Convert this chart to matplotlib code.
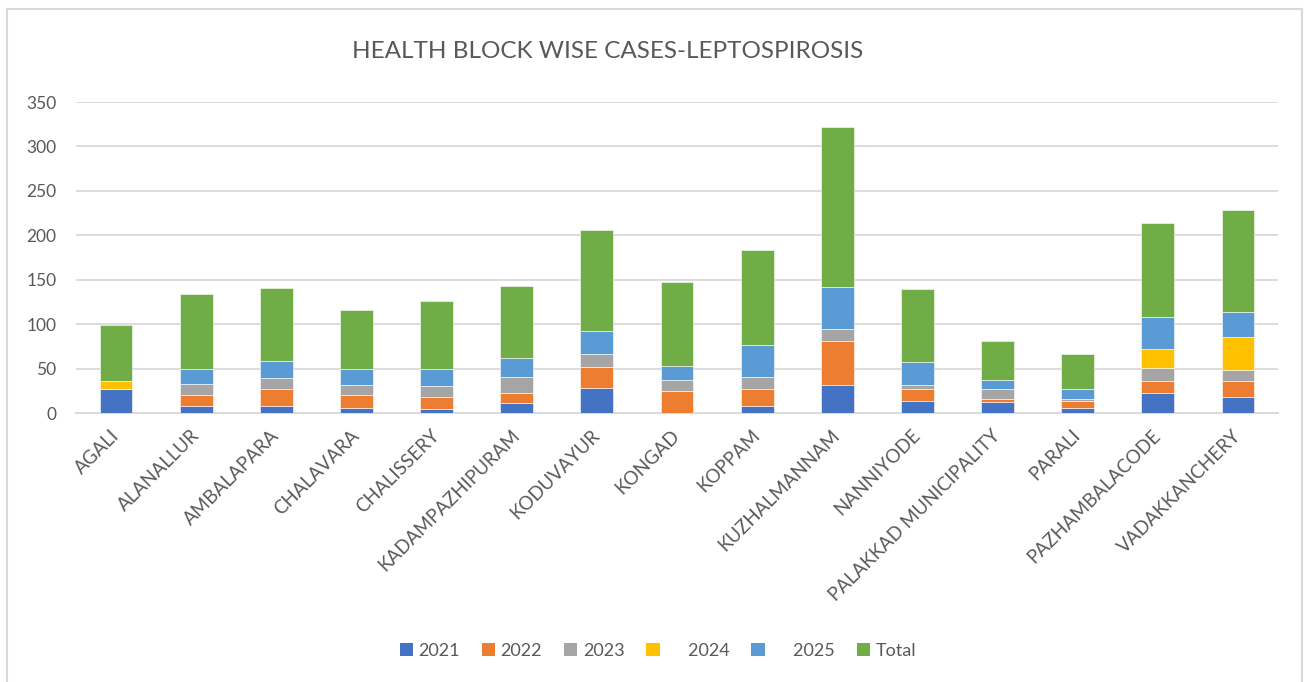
import matplotlib
matplotlib.use("Agg")
import matplotlib.pyplot as plt
import numpy as np
from matplotlib.patches import Patch

plt.rcParams["font.family"] = ["Lato", "DejaVu Sans"]

blocks = ["AGALI", "ALANALLUR", "AMBALAPARA", "CHALAVARA", "CHALISSERY",
          "KADAMPAZHIPURAM", "KODUVAYUR", "KONGAD", "KOPPAM", "KUZHALMANNAM",
          "NANNIYODE", "PALAKKAD MUNICIPALITY", "PARALI", "PAZHAMBALACODE",
          "VADAKKANCHERY"]

y2021 = [27, 8, 8, 6, 5, 11, 28, 0, 8, 32, 13, 12, 6, 23, 18]
y2022 = [0, 12, 19, 14, 13, 12, 24, 25, 19, 49, 14, 4, 7, 13, 18]
y2023 = [0, 13, 12, 12, 12, 17, 14, 12, 14, 14, 5, 11, 3, 15, 12]
y2024 = [9, 0, 0, 0, 0, 0, 0, 0, 0, 0, 0, 0, 0, 21, 37]
y2025 = [0, 16, 20, 18, 20, 22, 26, 16, 36, 47, 25, 10, 11, 36, 29]
total = [63, 85, 82, 66, 76, 81, 114, 94, 107, 180, 83, 44, 39, 106, 114]

series_labels = ["2021", "2022", "2023", "     2024", "     2025", "Total"]
colors = ["#4472C4", "#ED7D31", "#A5A5A5", "#FFC000", "#5B9BD5", "#70AD47"]
text_color = "#595959"

fig = plt.figure(figsize=(13.06, 6.82), dpi=100)
ax = fig.add_axes([76 / 1306, 269 / 682, 1202 / 1306, 311 / 682])

x = np.arange(len(blocks))
bottom = np.zeros(len(blocks))
for vals, col in zip([y2021, y2022, y2023, y2024, y2025, total], colors):
    ax.bar(x, vals, width=0.41, bottom=bottom, color=col,
           edgecolor="white", linewidth=0.4, zorder=3)
    bottom += np.array(vals)

ax.set_xlim(-0.5, len(blocks) - 0.5)
ax.set_ylim(0, 350)
ax.set_yticks(np.arange(0, 351, 50))
ax.yaxis.grid(True, color="#D9D9D9", linewidth=1.3, zorder=0)
ax.set_axisbelow(True)
for s in ["top", "right", "left"]:
    ax.spines[s].set_visible(False)
ax.spines["bottom"].set_color("#D9D9D9")
ax.spines["bottom"].set_linewidth(1.3)
ax.tick_params(axis="both", length=0, colors=text_color, labelsize=12.5)
ax.tick_params(axis="y", pad=14)
ax.tick_params(axis="x", pad=14)

ax.set_xticks(x)
ax.set_xticklabels(blocks, rotation=45, ha="right", va="center",
                   rotation_mode="anchor", color=text_color, fontsize=13.5)

fig.text(608 / 1306, 1 - 51 / 682, "HEALTH BLOCK WISE CASES-LEPTOSPIROSIS",
         ha="center", va="center", fontsize=17.5, color=text_color)

handles = [Patch(facecolor=c, edgecolor="none") for c in colors]
fig.legend(handles, series_labels, loc="center", ncol=6,
           bbox_to_anchor=(658 / 1306, 1 - 651 / 682), frameon=False,
           fontsize=13, labelcolor=text_color, handlelength=0.75,
           handleheight=0.75, handletextpad=0.3, columnspacing=1.2)

# chart border
fig.add_artist(plt.Line2D([7 / 1306, 7 / 1306], [0, 1 - 9 / 682],
                          transform=fig.transFigure, color="#D9D9D9", lw=1.5))
fig.add_artist(plt.Line2D([7 / 1306, 1302 / 1306], [1 - 9 / 682, 1 - 9 / 682],
                          transform=fig.transFigure, color="#D9D9D9", lw=1.5))
fig.add_artist(plt.Line2D([1302 / 1306, 1302 / 1306], [0, 1 - 9 / 682],
                          transform=fig.transFigure, color="#D9D9D9", lw=1.5))

fig.savefig("out.png", dpi=100, facecolor="white")
